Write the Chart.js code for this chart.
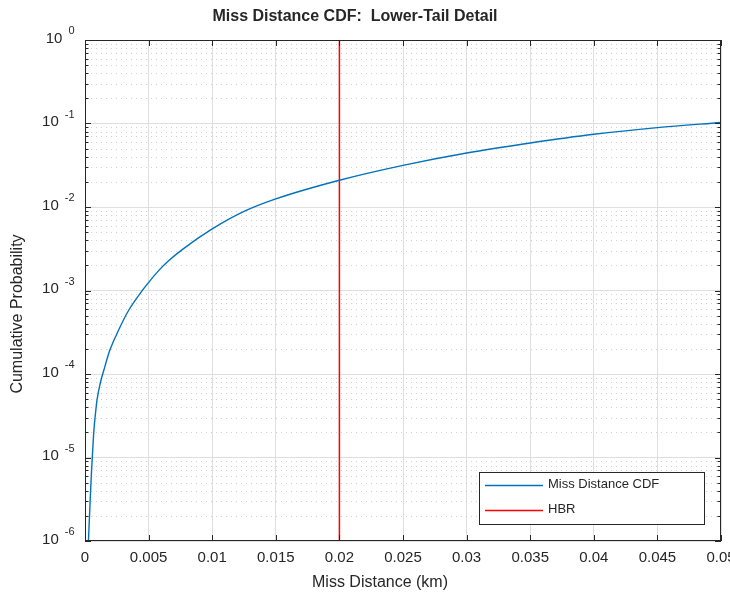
<!DOCTYPE html>
<html>
<head>
<meta charset="utf-8">
<title>Miss Distance CDF</title>
<script src="https://cdn.jsdelivr.net/npm/chart.js@4.4.1/dist/chart.umd.min.js"></script>
<style>
  html, body { margin: 0; padding: 0; background: #fff; }
  canvas { display: block; }
</style>
</head>
<body>
<canvas id="cdf" width="730" height="593"></canvas>
<script>
// miss distance (km) and cumulative probability of the CDF curve
const missDistance = [0.00027, 0.00035, 0.00043, 0.00051, 0.00059, 0.00069, 0.0008, 0.00095,
  0.00122, 0.00148, 0.00195, 0.0026, 0.00339, 0.00457, 0.00504, 0.00588, 0.00653, 0.00767,
  0.01, 0.0125, 0.015, 0.02, 0.025, 0.03, 0.035, 0.04, 0.045, 0.05];
const cumProb = [1.0e-6, 1.94e-6, 3.7e-6, 6.7e-6, 1.11e-5, 2.02e-5, 3.11e-5, 4.93e-5,
  8.02e-5, 1.11e-4, 1.92e-4, 3.25e-4, 5.64e-4, 1.03e-3, 1.27e-3, 1.79e-3, 2.24e-3, 3.11e-3,
  5.46e-3, 8.85e-3, 1.25e-2, 2.09e-2, 3.15e-2, 4.43e-2, 5.84e-2, 7.43e-2, 8.93e-2, 1.03e-1];

// hard-body radius marker (km)
const hbr = 0.02;

const xTickValues = [0, 0.005, 0.01, 0.015, 0.02, 0.025, 0.03, 0.035, 0.04, 0.045, 0.05];
const xTickLabels = ['0', '0.005', '0.01', '0.015', '0.02', '0.025', '0.03', '0.035', '0.04', '0.045', '0.05'];
const yDecades = [1e-6, 1e-5, 1e-4, 1e-3, 1e-2, 1e-1, 1];
const yExponents = ['-6', '-5', '-4', '-3', '-2', '-1', '0'];

const FONT = "'Liberation Sans', Arial, Helvetica, sans-serif";
const INK = '#262626';

Chart.defaults.font.family = FONT;
Chart.defaults.color = INK;

// matlab-ish axes: dotted minor grid, inward ticks, boxed frame, superscript labels, legend
const matlabAxes = {
  id: 'matlabAxes',
  beforeDatasetsDraw(chart) {
    const { ctx, chartArea: a, scales: { y } } = chart;
    ctx.save();
    ctx.strokeStyle = '#d0d0d0';
    ctx.lineWidth = 1;
    ctx.setLineDash([1, 4]);
    yDecades.slice(0, -1).forEach(d => {
      for (let m = 2; m <= 9; m++) {
        const py = Math.round(y.getPixelForValue(d * m)) + 0.5;
        ctx.beginPath();
        ctx.moveTo(a.left + 1, py);
        ctx.lineTo(a.right - 1, py);
        ctx.stroke();
      }
    });
    ctx.restore();
  },
  afterDraw(chart) {
    const { ctx, chartArea: a, scales: { x, y } } = chart;
    ctx.save();
    ctx.strokeStyle = INK;
    ctx.lineWidth = 1;

    // frame
    ctx.strokeRect(a.left + 0.5, a.top + 0.5, a.right - a.left - 1, a.bottom - a.top - 1);

    // x ticks, bottom and top
    ctx.beginPath();
    xTickValues.forEach(v => {
      const px = Math.round(x.getPixelForValue(v)) + 0.5;
      ctx.moveTo(px, a.bottom); ctx.lineTo(px, a.bottom - 6);
      ctx.moveTo(px, a.top); ctx.lineTo(px, a.top + 6);
    });
    // y ticks, left and right
    yDecades.forEach((d, i) => {
      const steps = i < yDecades.length - 1 ? 9 : 1;
      for (let m = 1; m <= steps; m++) {
        const py = Math.round(y.getPixelForValue(d * m)) + 0.5;
        const len = m === 1 ? 6 : 3.5;
        ctx.moveTo(a.left, py); ctx.lineTo(a.left + len, py);
        ctx.moveTo(a.right, py); ctx.lineTo(a.right - len, py);
      }
    });
    ctx.stroke();

    // y tick labels 10^n
    ctx.fillStyle = INK;
    ctx.textBaseline = 'middle';
    ctx.textAlign = 'right';
    yDecades.forEach((d, i) => {
      const py = y.getPixelForValue(d);
      ctx.font = '11px ' + FONT;
      const w = ctx.measureText(yExponents[i]).width;
      ctx.fillText(yExponents[i], 74.5, py - 9);
      ctx.font = '15px ' + FONT;
      ctx.fillText('10', 74.5 - w - 6, py - 1.5);
    });

    // titles
    ctx.textAlign = 'center';
    ctx.font = 'bold 16px ' + FONT;
    ctx.fillText('Miss Distance CDF:  Lower-Tail Detail', 355, 17);
    ctx.font = '16px ' + FONT;
    ctx.fillText('Miss Distance (km)', 380, 583);
    ctx.save();
    ctx.translate(17.5, 314);
    ctx.rotate(-Math.PI / 2);
    ctx.fillText('Cumulative Probability', 0, 0);
    ctx.restore();

    // legend
    const lx = 479.5, ly = 472.5, lw = 225, lh = 52;
    ctx.fillStyle = '#fff';
    ctx.fillRect(lx, ly, lw, lh);
    ctx.strokeStyle = INK;
    ctx.strokeRect(lx, ly, lw, lh);
    ctx.font = '13px ' + FONT;
    ctx.textAlign = 'left';
    chart.data.datasets.forEach((ds, i) => {
      const ry = 485 + i * 25;
      ctx.strokeStyle = ds.borderColor;
      ctx.lineWidth = 1.3;
      ctx.beginPath();
      ctx.moveTo(485, ry + 0.5);
      ctx.lineTo(543, ry + 0.5);
      ctx.stroke();
      ctx.fillStyle = INK;
      ctx.fillText(ds.label, 548, ry - 1);
    });
    ctx.restore();
  }
};

new Chart(document.getElementById('cdf'), {
  type: 'line',
  data: {
    datasets: [{
      label: 'Miss Distance CDF',
      data: missDistance.map((d, i) => ({ x: d, y: cumProb[i] })),
      borderColor: '#0072BD',
      borderWidth: 1.4,
      pointRadius: 0,
      cubicInterpolationMode: 'monotone',
    }, {
      label: 'HBR',
      data: [{ x: hbr, y: yDecades[0] }, { x: hbr, y: yDecades[yDecades.length - 1] }],
      borderColor: '#FF0000',
      borderWidth: 1.5,
      pointRadius: 0,
    }]
  },
  options: {
    responsive: false,
    animation: false,
    devicePixelRatio: 1,
    layout: { padding: { top: 40, right: 9, bottom: 0, left: 0 } },
    scales: {
      x: {
        type: 'linear',
        min: 0,
        max: 0.05,
        afterBuildTicks: s => { s.ticks = xTickValues.map(v => ({ value: v })); },
        afterFit: s => { s.height = 52; s.paddingLeft = 0; s.paddingRight = 0; },
        ticks: {
          padding: 8,
          maxRotation: 0,
          autoSkip: false,
          font: { size: 15 },
          color: INK,
          callback: (v, i) => xTickLabels[i],
        },
        grid: { color: '#dfdfdf', drawTicks: false },
        border: { display: false },
      },
      y: {
        type: 'logarithmic',
        min: yDecades[0],
        max: yDecades[yDecades.length - 1],
        afterBuildTicks: s => { s.ticks = yDecades.map(v => ({ value: v })); },
        afterFit: s => { s.width = 85; },
        ticks: { display: false },
        grid: { color: '#dfdfdf', drawTicks: false },
        border: { display: false },
      }
    },
    plugins: {
      legend: { display: false },
      tooltip: { enabled: false },
    }
  },
  plugins: [matlabAxes]
});
</script>
</body>
</html>
